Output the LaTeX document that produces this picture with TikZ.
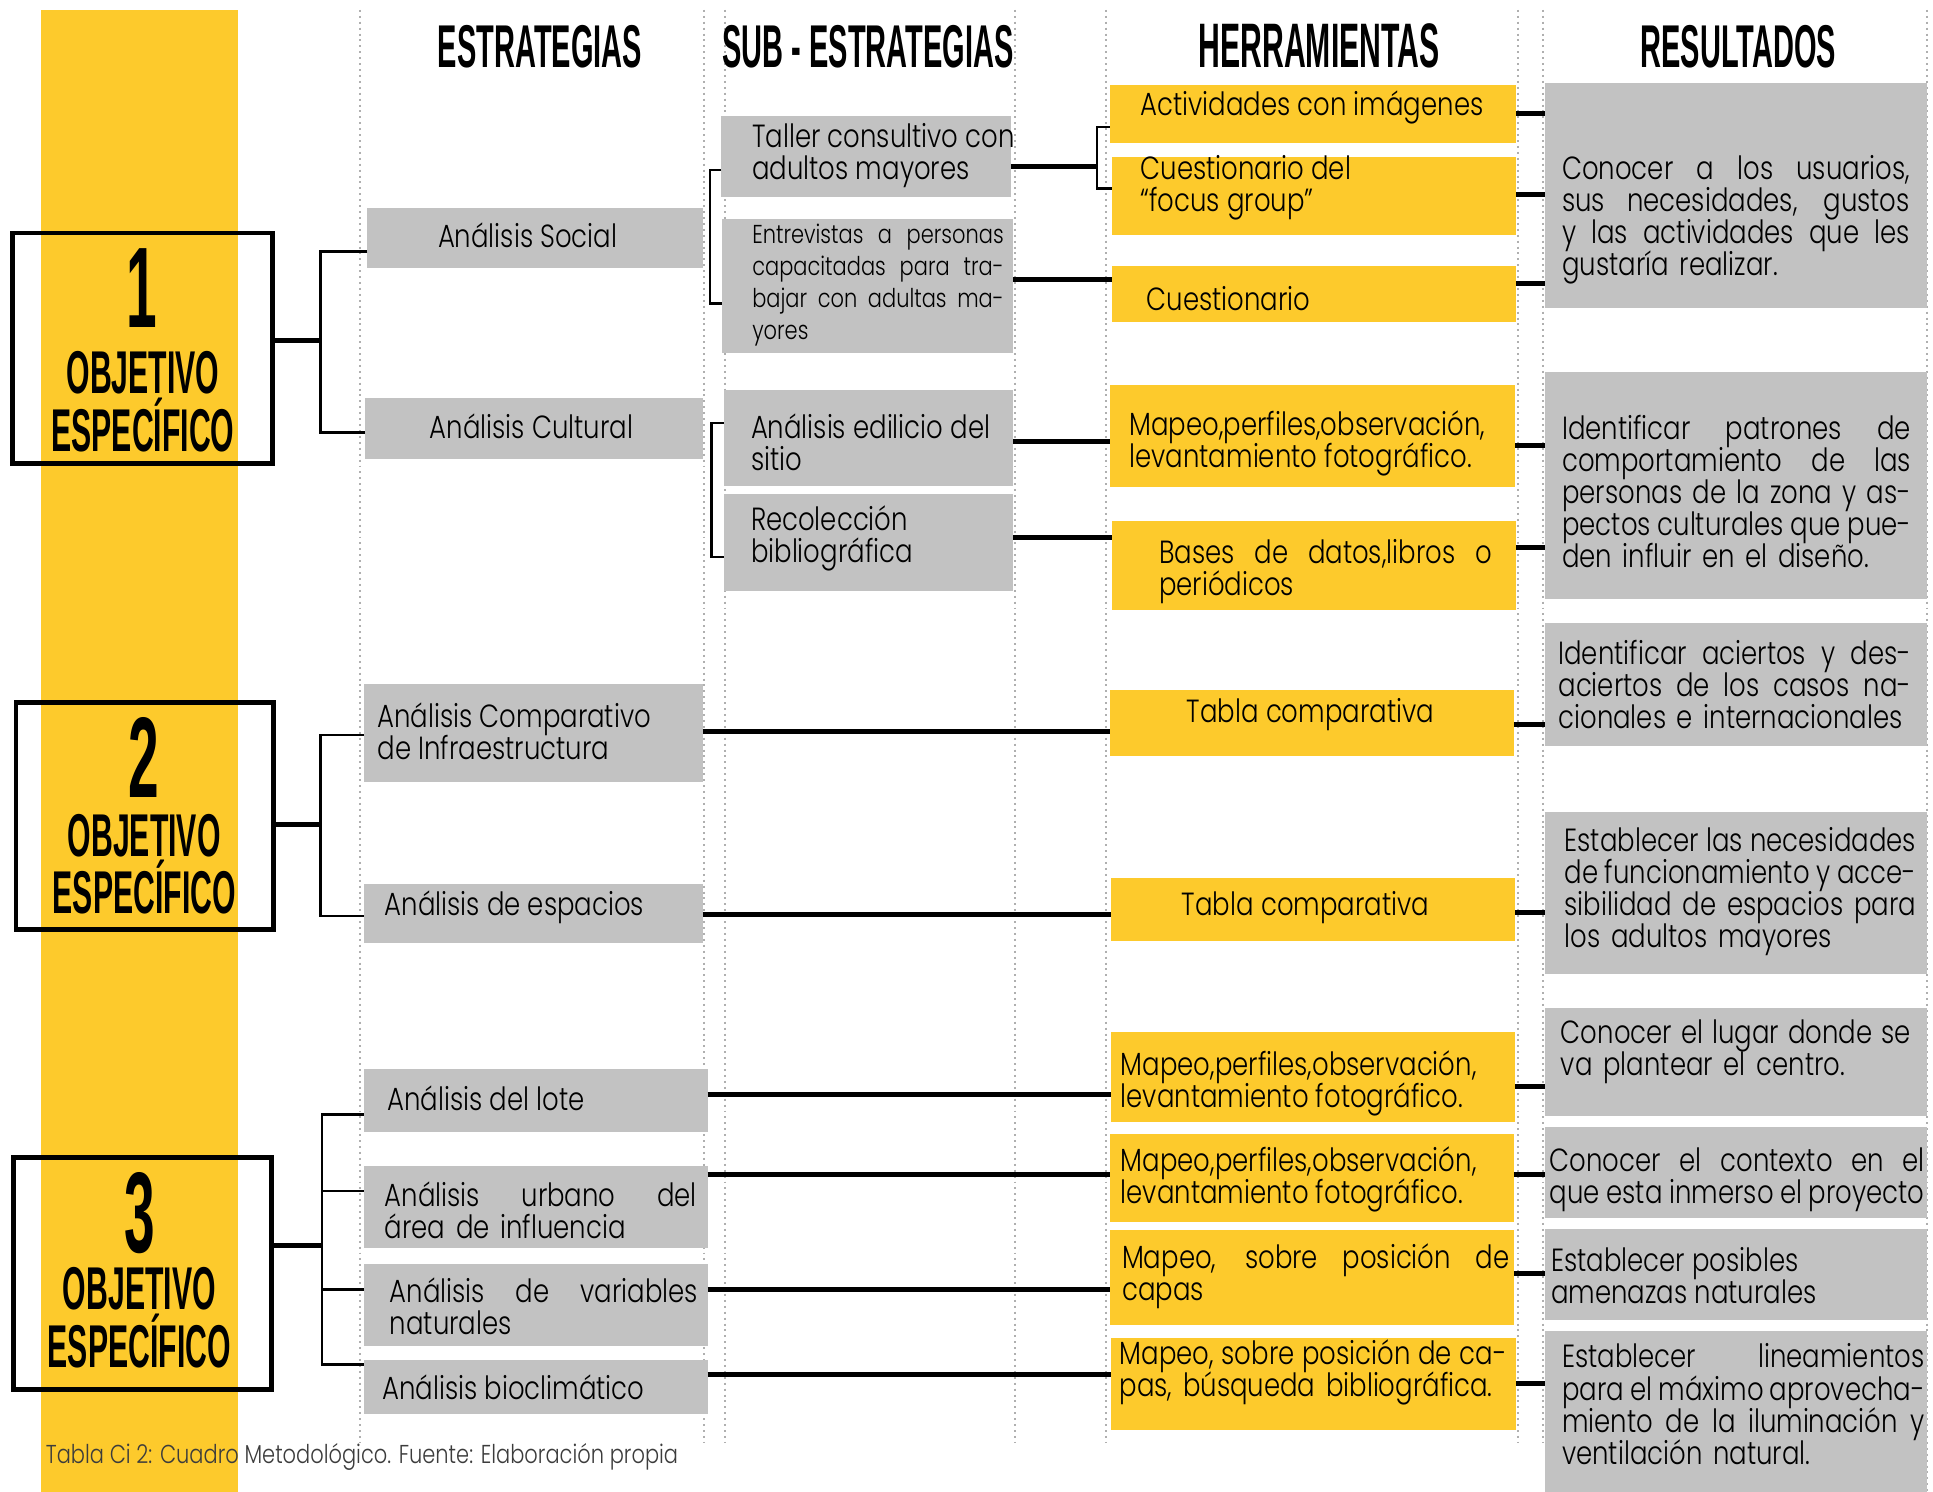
\documentclass[tikz,border=0pt]{standalone}
\usepackage{fontspec}
\IfFontExistsTF{Poppins Light}{\setmainfont{Poppins Light}[FakeStretch=0.81]}{\setmainfont{Poppins}[FakeStretch=0.81]}
\newfontfamily\hfont{Liberation Sans}[FakeStretch=0.48]
\newfontfamily\ofont{Liberation Sans}[FakeStretch=0.50]
\definecolor{ylw}{RGB}{253,202,44}
\definecolor{boxgray}{RGB}{194,194,194}
\definecolor{dotgray}{RGB}{175,175,175}
\definecolor{capgray}{RGB}{60,60,60}
\newcommand\bodyfont{\fontsize{26}{26}\selectfont\lineskiplimit=-100pt\lineskip=0pt}
\newcommand\smallbody{\fontsize{21}{26}\selectfont\lineskiplimit=-100pt\lineskip=0pt}
\newcommand\jl[1]{\makebox[\linewidth][s]{\spaceskip=\fontdimen2\font plus 1fil minus .45\fontdimen2\font\relax#1}}
\begin{document}
\begin{tikzpicture}[x=1pt,y=-1pt,
  box/.style={anchor=north west, inner sep=0pt, outer sep=0pt},
  gb/.style={box, fill=boxgray},
  yb/.style={box, fill=ylw},
  ob/.style={box, draw=black, line width=4pt},
  tx/.style={anchor=west, align=left, inner sep=0pt, font=\bodyfont},
  hd/.style={anchor=base, inner sep=0pt, font=\hfont\bfseries\fontsize{49}{49}\selectfont},
  ot/.style={anchor=base, inner sep=0pt, font=\ofont\bfseries\fontsize{49}{49}\selectfont},
  on/.style={anchor=base, inner sep=0pt, font=\hfont\bfseries\fontsize{93}{93}\selectfont},
  conn/.style={line width=4pt},
  brk/.style={line width=2pt},
  dotl/.style={draw=dotgray, line width=1.6pt, dash pattern=on 1.6pt off 3.2pt}]
\useasboundingbox (0,0) rectangle (1568,1210);
\fill[white] (0,0) rectangle (1568,1210);
% yellow band
\fill[ylw] (33,8) rectangle (193,1210);
% dotted column guides
\foreach \x in {292,571,588,823,897,1231,1252}{\draw[dotl] (\x,8) -- (\x,1170);}
\draw[dotl] (1563,8) -- (1563,1210);
% headers
\node[hd] (hE) at (438,55) {ESTRATEGIAS};
\node[hd] (hS) at (704,55) {SUB - ESTRATEGIAS};
\node[hd, font=\hfont\bfseries\fontsize{51}{51}\selectfont] (hH) at (1070,55) {HERRAMIENTAS};
\node[hd] (hR) at (1410,55) {RESULTADOS};
% objective boxes
\node[ob, minimum width=211pt, minimum height=187pt] (o1) at (10,189) {};
\node[ob, minimum width=209pt, minimum height=184pt] (o2) at (13,570) {};
\node[ob, minimum width=209pt, minimum height=188pt] (o3) at (11,939) {};
\node[on] (o1n) at (115,266) {1};
\node[ot] (o1a) at (116,319) {OBJETIVO};
\node[ot] (o1b) at (116,366) {ESPECÍFICO};
\node[on] (o2n) at (117,647) {2};
\node[ot] (o2a) at (117,695) {OBJETIVO};
\node[ot] (o2b) at (117,741) {ESPECÍFICO};
\node[on] (o3n) at (113,1016) {3};
\node[ot] (o3a) at (113,1062) {OBJETIVO};
\node[ot] (o3b) at (113,1109) {ESPECÍFICO};
% strategies
\node[gb, minimum width=272pt, minimum height=48pt] (s1) at (298,169) {};
\node[gb, minimum width=274pt, minimum height=49pt] (s2) at (296,323) {};
\node[gb, minimum width=275pt, minimum height=79pt] (s3) at (295,555) {};
\node[gb, minimum width=275pt, minimum height=48pt] (s4) at (295,717) {};
\node[gb, minimum width=279pt, minimum height=51pt] (s5) at (295,867) {};
\node[gb, minimum width=279pt, minimum height=66pt] (s6) at (295,946) {};
\node[gb, minimum width=279pt, minimum height=67pt] (s7) at (295,1025) {};
\node[gb, minimum width=279pt, minimum height=44pt] (s8) at (295,1103) {};
% sub-strategies
\node[gb, minimum width=235pt, minimum height=66pt] (u1) at (585,94) {};
\node[gb, minimum width=236pt, minimum height=108pt] (u2) at (586,178) {};
\node[gb, minimum width=235pt, minimum height=78pt] (u3) at (587,316) {};
\node[gb, minimum width=235pt, minimum height=78pt] (u4) at (587,401) {};
% tools
\node[yb, minimum width=330pt, minimum height=47pt] (h1) at (900,69) {};
\node[yb, minimum width=328pt, minimum height=64pt] (h2) at (902,127) {};
\node[yb, minimum width=328pt, minimum height=45pt] (h3) at (902,216) {};
\node[yb, minimum width=329pt, minimum height=83pt] (h4) at (900,312) {};
\node[yb, minimum width=328pt, minimum height=72pt] (h5) at (902,423) {};
\node[yb, minimum width=328pt, minimum height=53pt] (h6) at (900,560) {};
\node[yb, minimum width=328pt, minimum height=51pt] (h7) at (901,712) {};
\node[yb, minimum width=328pt, minimum height=73pt] (h8) at (901,837) {};
\node[yb, minimum width=328pt, minimum height=71pt] (h9) at (900,920) {};
\node[yb, minimum width=328pt, minimum height=77pt] (h10) at (900,998) {};
\node[yb, minimum width=329pt, minimum height=75pt] (h11) at (901,1085) {};
% results
\node[gb, minimum width=310pt, minimum height=183pt] (r1) at (1253,67) {};
\node[gb, minimum width=310pt, minimum height=184pt] (r2) at (1253,302) {};
\node[gb, minimum width=310pt, minimum height=100pt] (r3) at (1253,505) {};
\node[gb, minimum width=310pt, minimum height=131pt] (r4) at (1253,659) {};
\node[gb, minimum width=310pt, minimum height=87pt] (r5) at (1253,818) {};
\node[gb, minimum width=310pt, minimum height=74pt] (r6) at (1253,914) {};
\node[gb, minimum width=310pt, minimum height=74pt] (r7) at (1253,997) {};
\node[gb, minimum width=310pt, minimum height=130pt] (r8) at (1253,1080) {};
% objective -> strategies
\coordinate (j1) at (260,276);
\coordinate (k1a) at (260,204);
\coordinate (k1b) at (260,351);
\draw[conn] (o1.east |- j1) -- (j1);
\draw[brk] (k1a -| s1.west) -- (k1a) -- (k1b) -- (k1b -| s2.west);
\coordinate (j2) at (260,669);
\coordinate (k2a) at (260,596);
\coordinate (k2b) at (260,743);
\draw[conn] (o2.east |- j2) -- (j2);
\draw[brk] (k2a -| s3.west) -- (k2a) -- (k2b) -- (k2b -| s4.west);
\coordinate (j3) at (261,1010);
\coordinate (k3a) at (261,904);
\coordinate (k3b) at (261,966);
\coordinate (k3c) at (261,1046);
\coordinate (k3d) at (261,1107);
\draw[conn] (o3.east |- j3) -- (j3);
\draw[brk] (k3a -| s5.west) -- (k3a) -- (k3d) -- (k3d -| s8.west);
\draw[brk] (k3b) -- (k3b -| s6.west);
\draw[brk] (k3c) -- (k3c -| s7.west);
% strategy brackets to sub-strategies
\coordinate (m1a) at (576,138);
\coordinate (m1b) at (576,246);
\draw[brk] (m1a -| u1.west) -- (m1a) -- (m1b) -- (m1b -| u2.west);
\coordinate (m2a) at (577,343);
\coordinate (m2b) at (577,452);
\draw[brk] (m2a -| u3.west) -- (m2a) -- (m2b) -- (m2b -| u4.west);
% sub-strategies -> tools
\coordinate (n1) at (890,135);
\coordinate (n1a) at (890,103);
\coordinate (n1b) at (890,153);
\draw[conn] (u1.east |- n1) -- (n1);
\draw[brk] (n1a -| h1.west) -- (n1a) -- (n1b) -- (n1b -| h2.west);
\draw[conn] (u2.east |- 0,227) -- (h3.west |- 0,227);
\draw[conn] (u3.east |- 0,358) -- (h4.west |- 0,358);
\draw[conn] (u4.east |- 0,436) -- (h5.west |- 0,436);
\draw[conn] (s3.east |- 0,593) -- (h6.west |- 0,593);
\draw[conn] (s4.east |- 0,742) -- (h7.west |- 0,742);
\draw[conn] (s5.east |- 0,888) -- (h8.west |- 0,888);
\draw[conn] (s6.east |- 0,953) -- (h9.west |- 0,953);
\draw[conn] (s7.east |- 0,1046) -- (h10.west |- 0,1046);
\draw[conn] (s8.east |- 0,1115) -- (h11.west |- 0,1115);
% tools -> results
\draw[conn] (h1.east |- 0,92) -- (r1.west |- 0,92);
\draw[conn] (h2.east |- 0,158) -- (r1.west |- 0,158);
\draw[conn] (h3.east |- 0,230) -- (r1.west |- 0,230);
\draw[conn] (h4.east |- 0,361) -- (r2.west |- 0,361);
\draw[conn] (h5.east |- 0,444) -- (r2.west |- 0,444);
\draw[conn] (h6.east |- 0,588) -- (r3.west |- 0,588);
\draw[conn] (h7.east |- 0,740) -- (r4.west |- 0,740);
\draw[conn] (h8.east |- 0,881) -- (r5.west |- 0,881);
\draw[conn] (h9.east |- 0,953) -- (r6.west |- 0,953);
\draw[conn] (h10.east |- 0,1033) -- (r7.west |- 0,1033);
\draw[conn] (h11.east |- 0,1122) -- (r8.west |- 0,1122);
% strategy texts
\node[tx, anchor=center] (ts1) at (428,191) {Análisis Social};
\node[tx, anchor=center] (ts2) at (431,346) {Análisis Cultural};
\node[tx] (ts3) at (306,593) {Análisis Comparativo\\de Infraestructura};
\node[tx] (ts4) at (312,736) {Análisis de espacios};
\node[tx] (ts5) at (314,891) {Análisis del lote};
\node[tx, text width=253pt] (ts6) at (312,982) {\jl{Análisis urbano del}\\área de influencia};
\node[tx, text width=250pt] (ts7) at (316,1060) {\jl{Análisis de variables}\\naturales};
\node[tx] (ts8) at (310,1125) {Análisis bioclimático};
% sub-strategy texts
\node[tx] (tu1) at (610,126) {Taller consultivo con\\adultos mayores};
\node[tx, text width=204pt, font=\smallbody] (tu2) at (610,231) {\jl{Entrevistas a personas}\\\jl{capacitadas para tra-}\\\jl{bajar con adultas ma-}\\yores};
\node[tx] (tu3) at (609,359) {Análisis edilicio del\\sitio};
\node[tx] (tu4) at (609,437) {Recolección\\bibliográfica};
% tool texts
\node[tx] (th1) at (925,87) {Actividades con imágenes};
\node[tx] (th2) at (925,152) {Cuestionario del\\“focus group”};
\node[tx] (th3) at (930,242) {Cuestionario};
\node[tx] (th4) at (916,360) {Mapeo,perfiles,observación,\\levantamiento fotográfico.};
\node[tx, text width=270pt] (th5) at (940,464) {\jl{Bases de datos,libros o}\\periódicos};
\node[tx, anchor=center] (th6) at (1063,580) {Tabla comparativa};
\node[tx, anchor=center] (th7) at (1059,736) {Tabla comparativa};
\node[tx] (th8) at (909,879) {Mapeo,perfiles,observación,\\levantamiento fotográfico.};
\node[tx] (th9) at (909,957) {Mapeo,perfiles,observación,\\levantamiento fotográfico.};
\node[tx, text width=314pt] (th10) at (910,1035) {\jl{Mapeo, sobre posición de}\\capas};
\node[tx, text width=314pt] (th11) at (908,1113) {\jl{Mapeo, sobre posición de ca-}\\pas, búsqueda bibliográfica.};
% result texts
\node[tx, text width=282pt] (tr1) at (1267,178) {\jl{Conocer a los usuarios,}\\\jl{sus necesidades, gustos}\\\jl{y las actividades que les}\\gustaría realizar.};
\node[tx, text width=283pt] (tr2) at (1267,399) {\jl{Identificar patrones de}\\\jl{comportamiento de las}\\\jl{personas de la zona y as-}\\\jl{pectos culturales que pue-}\\den influir en el diseño.};
\node[tx, text width=286pt] (tr3) at (1264,555) {\jl{Identificar aciertos y des-}\\\jl{aciertos de los casos na-}\\cionales e internacionales};
\node[tx, text width=285pt] (tr4) at (1269,723) {\jl{Establecer las necesidades}\\\jl{de funcionamiento y acce-}\\\jl{sibilidad de espacios para}\\los adultos mayores};
\node[tx, text width=284pt] (tr5) at (1266,853) {\jl{Conocer el lugar donde se}\\va plantear el centro.};
\node[tx, text width=304pt] (tr6) at (1257,957) {\jl{Conocer el contexto en el}\\\jl{que esta inmerso el proyecto}};
\node[tx] (tr7) at (1258,1035) {Establecer posibles\\amenazas naturales};
\node[tx, text width=294pt] (tr8) at (1267,1139) {\jl{Establecer lineamientos}\\\jl{para el máximo aprovecha-}\\\jl{miento de la iluminación y}\\ventilación natural.};
% caption
\node[tx, font=\fontsize{21}{21}\selectfont, text=capgray] (cap) at (37,1182) {Tabla Ci 2: Cuadro Metodológico. Fuente: Elaboración propia};
\end{tikzpicture}
\end{document}
